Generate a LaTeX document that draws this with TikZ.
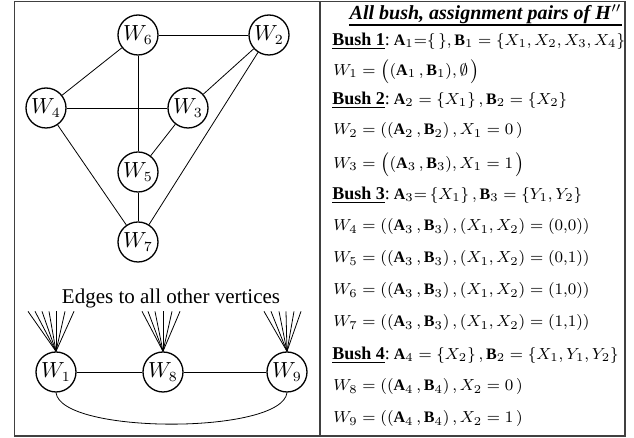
\documentclass[tikz,border=0pt]{standalone}
\usepackage{fontspec}
\setmainfont{Liberation Serif}
\newcommand{\bushlbl}[1]{{\fontsize{9}{11}\selectfont\textbf{\underline{Bush #1}}:}}
\begin{document}
\begin{tikzpicture}[x=0.5pt,y=-0.5pt,
  frame/.style={draw=black!75,line width=0.8pt},
  vert/.style={circle,draw,line width=0.65pt,minimum size=20pt,inner sep=0pt,font=\fontsize{10.5}{12}\selectfont},
  edge/.style={line width=0.4pt},
  row/.style={anchor=west,inner sep=0pt,font=\fontsize{8}{10}\selectfont}]
\useasboundingbox (0,0) rectangle (634,438);
\draw[frame] (14.5,1.5) rectangle (625,436);
\draw[frame] (320,1.5) -- (320,436);
% graph
\node[vert] (w6) at (138,35) {$W_6$};
\node[vert] (w2) at (269,35) {$W_2$};
\node[vert] (w4) at (46,108) {$W_4$};
\node[vert] (w3) at (188,108) {$W_3$};
\node[vert] (w5) at (138,172) {$W_5$};
\node[vert] (w7) at (138,242) {$W_7$};
\draw[edge] (w6) -- (w2);
\draw[edge] (w6) -- (w4);
\draw[edge] (w6) -- (w5);
\draw[edge] (w2) -- (w3);
\draw[edge] (w2) -- (w7);
\draw[edge] (w4) -- (w3);
\draw[edge] (w3) -- (w5);
\draw[edge] (w4) -- (w7);
\draw[edge] (w5) -- (w7);
\node[font=\fontsize{10.5}{12}\selectfont,inner sep=0pt] (lbl) at (171,298) {Edges to all other vertices};
\node[vert] (w1) at (56,372) {$W_1$};
\node[vert] (w8) at (163,372) {$W_8$};
\node[vert] (w9) at (287,372) {$W_9$};
\draw[edge] (w1) -- (w8);
\draw[edge] (w8) -- (w9);
\draw[edge] (w1.south) .. controls +(5,42) and +(-5,42) .. (w9.south);
\foreach \d in {-28,-21,-14,-7,0,9,18} \draw[edge] (w1.north) -- ++(\d,-40);
\foreach \d in {-21,-15,-8,0,9,17} \draw[edge] (w8.north) -- ++(\d,-40);
\foreach \d in {-23,-16,-8,-1,7,14} \draw[edge] (w9.north) -- ++(\d,-40);
% right panel
\node[anchor=east,inner sep=0pt,font=\fontsize{10}{12}\selectfont] (title) at (622,14) {\textbf{\textit{All bush, assignment pairs of H}}$''$};
\draw[line width=0.6pt] (title.south west) ++(0,1) coordinate (ul1) -- (ul1 -| title.south east);
\node[row] (b1) at (332,41) {\bushlbl{1}\ $\mathbf{A}_1{=}\{\,\},\mathbf{B}_1=\{X_1,X_2,X_3,X_4\}$};
\node[row] (r1) at (333,71) {$W_1=\bigl((\mathbf{A}_1\,,\mathbf{B}_1),\emptyset\,\bigr)$};
\node[row] (b2) at (332,100) {\bushlbl{2}\ $\mathbf{A}_2=\{X_1\}\,,\mathbf{B}_2=\{X_2\}$};
\node[row] (r2) at (333,131) {$W_2=((\mathbf{A}_2\,,\mathbf{B}_2)\,,X_1=0\,)$};
\node[row] (r3) at (333,164) {$W_3=\bigl((\mathbf{A}_3\,,\mathbf{B}_3),X_1=1\,\bigr)$};
\node[row] (b3) at (332,195) {\bushlbl{3}\ $\mathbf{A}_3{=}\,\{X_1\}\,,\mathbf{B}_3=\{Y_1,Y_2\}$};
\node[row] (r4) at (333,227) {$W_4=((\mathbf{A}_3\,,\mathbf{B}_3)\,,(X_1,X_2)=(0{,}0))$};
\node[row] (r5) at (333,259) {$W_5=((\mathbf{A}_3\,,\mathbf{B}_3)\,,(X_1,X_2)=(0{,}1))$};
\node[row] (r6) at (333,291) {$W_6=((\mathbf{A}_3\,,\mathbf{B}_3)\,,(X_1,X_2)=(1{,}0))$};
\node[row] (r7) at (333,323) {$W_7=((\mathbf{A}_3\,,\mathbf{B}_3)\,,(X_1,X_2)=(1{,}1))$};
\node[row] (b4) at (332,355) {\bushlbl{4}\ $\mathbf{A}_4=\{X_2\}\,,\mathbf{B}_2=\{X_1,Y_1,Y_2\}$};
\node[row] (r8) at (333,387) {$W_8=((\mathbf{A}_4\,,\mathbf{B}_4)\,,X_2=0\,)$};
\node[row] (r9) at (333,419) {$W_9=((\mathbf{A}_4\,,\mathbf{B}_4)\,,X_2=1\,)$};
\end{tikzpicture}
\end{document}
